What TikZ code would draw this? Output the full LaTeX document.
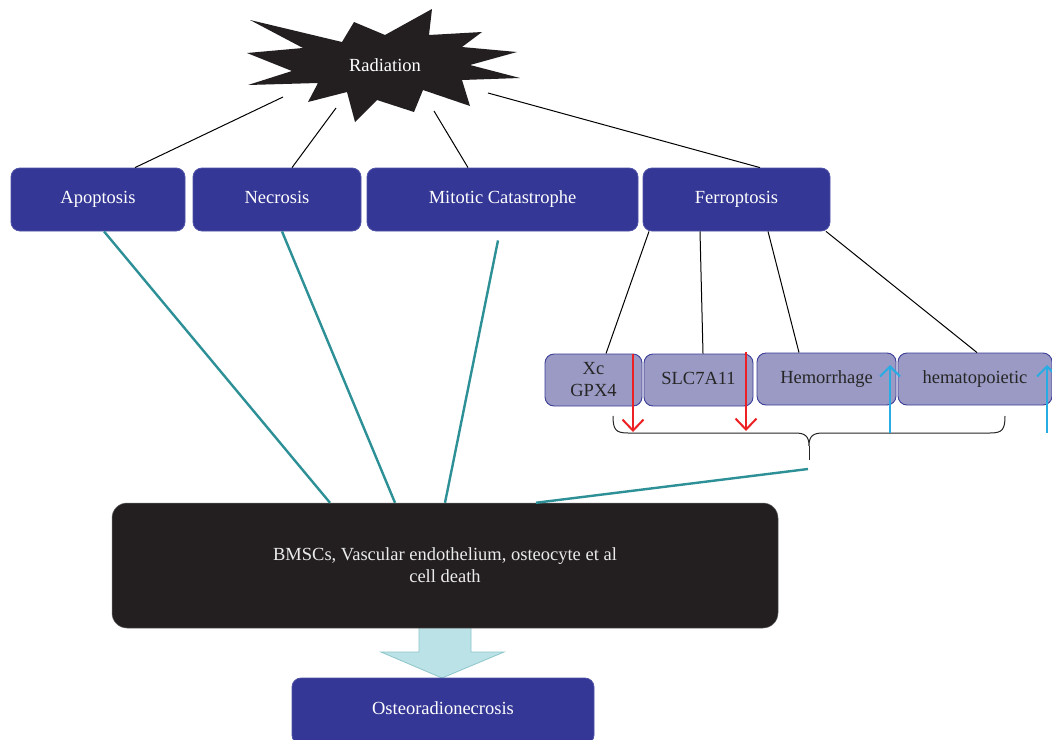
\documentclass[tikz,border=0pt]{standalone}
\usepackage{fontspec}
\setmainfont{Liberation Serif}
\usetikzlibrary{arrows.meta,calc}
\definecolor{bluefill}{RGB}{52,55,149}
\definecolor{blueborder}{RGB}{80,83,168}
\definecolor{smallfill}{RGB}{154,154,196}
\definecolor{smallborder}{RGB}{59,62,152}
\definecolor{tealc}{RGB}{44,144,150}
\definecolor{starblack}{RGB}{35,31,32}
\definecolor{arrowfill}{RGB}{187,226,230}
\definecolor{arrowdraw}{RGB}{141,198,203}
\definecolor{redc}{RGB}{237,33,36}
\definecolor{bluec}{RGB}{40,172,228}
\newcommand\myfs{\fontsize{18.5}{22}\selectfont}
\tikzset{
  bluebox/.style={draw=blueborder, fill=bluefill, rounded corners=9pt, text=white, font=\myfs, minimum height=63pt, inner sep=0pt, line width=0.8pt, text height=12.5pt, text depth=4.5pt},
  smallbox/.style={draw=smallborder, fill=smallfill, rounded corners=9pt, text=black!85, font=\myfs, minimum height=52pt, inner sep=0pt, line width=0.9pt, align=center},
  blackline/.style={draw=black, line width=1pt},
  tealline/.style={draw=tealc, line width=2.4pt},
  redarrow/.style={draw=redc, line width=2pt, -{Straight Barb[length=11pt,width=21pt,line width=2pt]}},
  bluearrow/.style={draw=bluec, line width=2pt, -{Straight Barb[length=10pt,width=20pt,line width=2pt]}},
}
\begin{document}
\begin{tikzpicture}[x=1pt,y=-1pt]
\clip (0,0) rectangle (1052,739);
\fill[white] (0,0) rectangle (1052,739);
% star
\fill[starblack] (250,20) -- (342,42) -- (354,22) -- (385,35) -- (432,9) -- (429,35) -- (482,32) -- (462,47) -- (517,52) -- (470,65) -- (520,78) -- (462,80) -- (470,106) -- (423,90) -- (414,112) -- (377,100) -- (355,122) -- (347,92) -- (308,102) -- (318,83) -- (248,85) -- (292,71) -- (247,53) -- (303,48) -- cycle;
\node[text=white, font=\myfs, inner sep=0pt] (rad) at (385,65) {Radiation};
\coordinate (r1) at (283,97);
\coordinate (r2) at (336,108);
\coordinate (r3) at (434,111);
\coordinate (r4) at (488,93);
% top row
\node[bluebox, minimum width=174pt] (apop) at (98,199.5) {Apoptosis};
\node[bluebox, minimum width=168pt] (necro) at (277,199.5) {Necrosis};
\node[bluebox, minimum width=271pt] (mito) at (502.5,199.5) {Mitotic Catastrophe};
\node[bluebox, minimum width=187pt] (ferro) at (736.5,199.5) {Ferroptosis};
% small boxes
\node[smallbox, minimum width=97pt] (xc) at (593.5,380) {Xc\\GPX4};
\node[smallbox, minimum width=109pt, text height=12.5pt, text depth=4.5pt] (slc) at (698.5,380) {SLC7A11};
\node[smallbox, minimum width=139pt, text height=12.5pt, text depth=4.5pt] (hem) at (826.5,379) {Hemorrhage};
\node[smallbox, minimum width=154pt, text height=12.5pt, text depth=4.5pt] (hemato) at (975,379) {hematopoietic};
% block arrow
\filldraw[fill=arrowfill, draw=arrowdraw, line width=0.8pt] (419,624) -- (419,652) -- (381,652) -- (442,678) -- (504,652) -- (471,652) -- (471,624);
% black box
\node[fill=starblack, draw=black!60, line width=0.5pt, rounded corners=15pt, minimum width=666pt, minimum height=125pt, inner sep=0pt, text=white!92!black, font=\myfs, align=center] (cell) at (445,565.5) {BMSCs, Vascular endothelium, osteocyte et al\\cell death};
% osteo
\node[bluebox, minimum width=302pt, minimum height=66pt] (osteo) at (443,711) {};
\node[text=white, font=\myfs, inner sep=0pt, text height=12.5pt, text depth=4.5pt] (osteotext) at (443,710) {Osteoradionecrosis};
% black connectors
\draw[blackline] (r1) -- ([xshift=37pt]apop.north);
\draw[blackline] (r2) -- ([xshift=15pt]necro.north);
\draw[blackline] (r3) -- ([xshift=-34.5pt]mito.north);
\draw[blackline] (r4) -- ([xshift=23.5pt]ferro.north);
\draw[blackline] ([xshift=-87.5pt]ferro.south) -- ([xshift=12.5pt]xc.north);
\draw[blackline] ([xshift=-36.5pt]ferro.south) -- ([xshift=4.5pt]slc.north);
\draw[blackline] ([xshift=31.5pt]ferro.south) -- ([xshift=-27.5pt]hem.north);
\draw[blackline] ([xshift=89.5pt]ferro.south) -- ([xshift=2pt]hemato.north);
% teal connectors
\draw[tealline] ([xshift=6pt]apop.south) -- ([xshift=-115pt]cell.north);
\draw[tealline] ([xshift=5pt]necro.south) -- ([xshift=-50pt]cell.north);
\draw[tealline] ([xshift=-4.5pt,yshift=-9pt]mito.south) -- (cell.north);
\coordinate (bracetip) at (809,460);
\coordinate (braceend) at (808,469);
\draw[tealline] (braceend) -- ([xshift=91pt]cell.north);
% brace
\draw[black!85, line width=1pt] (613,416) .. controls (613,430) and (616,433) .. (628,433) -- (795,433) .. controls (805,433) and (809,436) .. (809,446) .. controls (809,436) and (813,433) .. (823,433) -- (990,433) .. controls (1002,433) and (1005,430) .. (1005,416);
\draw[black!85, line width=1pt] (809,446) -- (bracetip);
% red and blue arrows
\coordinate (ra1) at (633,354); \coordinate (rb1) at (633,432);
\coordinate (ra2) at (746,352); \coordinate (rb2) at (746,431);
\coordinate (ba1) at (890,433); \coordinate (bb1) at (890,365);
\coordinate (ba2) at (1047,433); \coordinate (bb2) at (1047,365);
\draw[redarrow] (ra1) -- (rb1);
\draw[redarrow] (ra2) -- (rb2);
\draw[bluearrow] (ba1) -- (bb1);
\draw[bluearrow] (ba2) -- (bb2);
\end{tikzpicture}
\end{document}
